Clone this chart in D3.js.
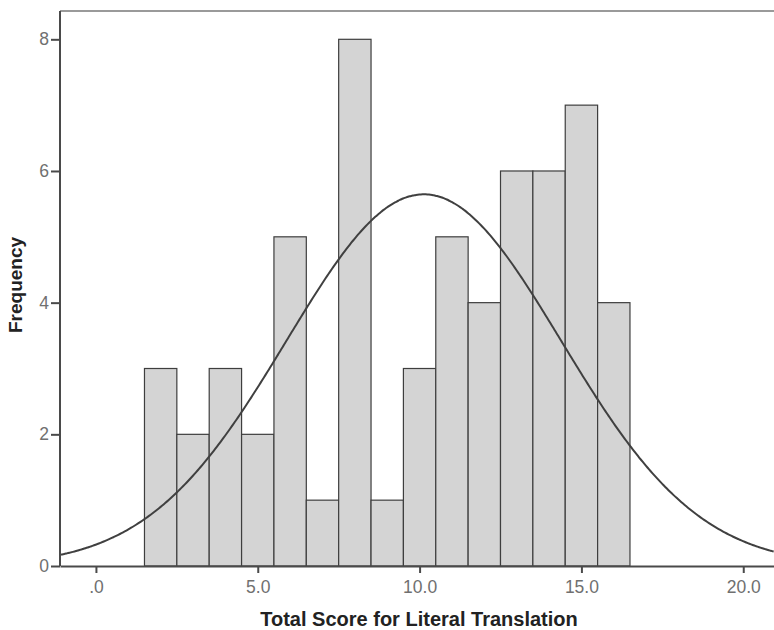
<!DOCTYPE html>
<html><head><meta charset="utf-8">
<script src="https://cdn.jsdelivr.net/npm/d3@7"></script>
<style>body{margin:0;background:#fff}svg{display:block}</style>
</head><body>
<svg id="c" width="774" height="630"></svg>
<script>
// Data
const binCenters = [2,3,4,5,6,7,8,9,10,11,12,13,14,15,16];
const frequencies = [3,2,3,2,5,1,8,1,3,5,4,6,6,7,4];
const xTicks = [0,5,10,15,20];
const xTickLabels = [".0","5.0","10.0","15.0","20.0"];
const yTicks = [0,2,4,6,8];
const binWidth = 1;
const fitMean = 10.13, fitSd = 4.24; // normal curve parameters
const N = d3.sum(frequencies);

const svg = d3.select("#c");
const L = 60, R = 774, T = 11, B = 566;
const x = d3.scaleLinear().domain([-1.11, 20.95]).range([L, R]);
const y = d3.scaleLinear().domain([0, 8.43]).range([B, T]);

// frame top
svg.append("line").attr("x1", L).attr("x2", R).attr("y1", T).attr("y2", T)
  .attr("stroke", "#9a9a9a").attr("stroke-width", 2);

// bars
svg.append("g").selectAll("rect").data(binCenters).join("rect")
  .attr("x", (d) => x(d - binWidth/2))
  .attr("width", (d) => x(d + binWidth/2) - x(d - binWidth/2))
  .attr("y", (d, i) => y(frequencies[i]))
  .attr("height", (d, i) => B - y(frequencies[i]))
  .attr("fill", "#d4d4d4").attr("stroke", "#3e3e3e").attr("stroke-width", 1.2);

// normal curve
const pts = d3.range(-1.11, 20.96, 0.05).map(v => [v, N*binWidth*Math.exp(-0.5*((v-fitMean)/fitSd)**2)/(fitSd*Math.sqrt(2*Math.PI))]);
svg.append("path").datum(pts)
  .attr("d", d3.line().x(d => x(d[0])).y(d => y(d[1])).curve(d3.curveBasis))
  .attr("fill", "none").attr("stroke", "#404040").attr("stroke-width", 2);

// axes
const xa = svg.append("g").attr("transform", `translate(0,${B})`)
  .call(d3.axisBottom(x).tickValues(xTicks).tickFormat((d, i) => xTickLabels[i]).tickSize(7).tickSizeOuter(0).tickPadding(8));
const ya = svg.append("g").attr("transform", `translate(${L},0)`)
  .call(d3.axisLeft(y).tickValues(yTicks).tickFormat(d3.format("d")).tickSize(9).tickSizeOuter(0).tickPadding(2));
[xa, ya].forEach(g => {
  g.select(".domain").attr("stroke", "#4a4a4a").attr("stroke-width", 2);
  g.selectAll(".tick line").attr("stroke", "#4a4a4a").attr("stroke-width", 2);
  g.selectAll(".tick text").attr("fill", "#707070").attr("font-family", "Liberation Sans, Arial, sans-serif").attr("font-size", 17.5);
});
ya.select(".domain").attr("d", `M0,${T}V${B}`);

// titles
svg.append("text").attr("x", 419).attr("y", 626).attr("text-anchor", "middle")
  .attr("font-family", "Liberation Sans, Arial, sans-serif").attr("font-weight", "bold").attr("font-size", 20)
  .attr("fill", "#222").text("Total Score for Literal Translation");
svg.append("text").attr("transform", "translate(22,285) rotate(-90)").attr("text-anchor", "middle")
  .attr("font-family", "Liberation Sans, Arial, sans-serif").attr("font-weight", "bold").attr("font-size", 19)
  .attr("fill", "#222").text("Frequency");
</script>
</body></html>
